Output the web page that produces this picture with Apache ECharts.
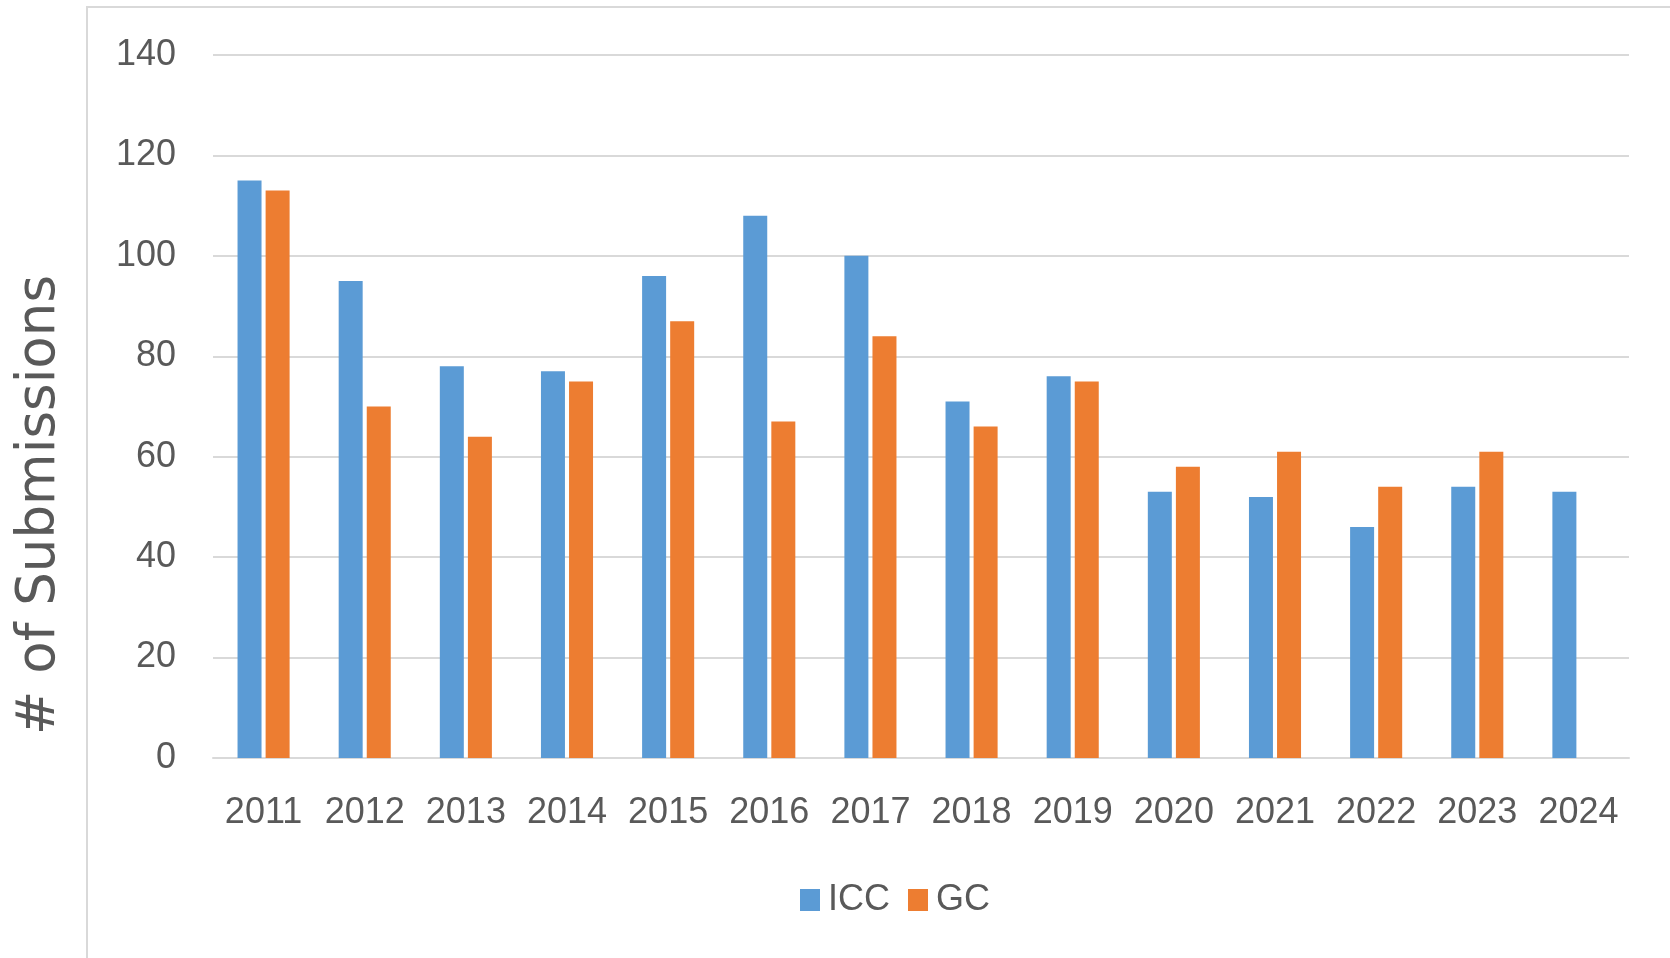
<!DOCTYPE html>
<html>
<head>
<meta charset="utf-8">
<script src="https://cdn.jsdelivr.net/npm/echarts@6/dist/echarts.min.js"></script>
<style>
html,body{margin:0;padding:0;background:#fff;}
#chart{width:1670px;height:958px;}
</style>
</head>
<body>
<div id="chart"></div>
<script>
const years = ['2011','2012','2013','2014','2015','2016','2017','2018','2019','2020','2021','2022','2023','2024'];
const iccValues = [115, 95, 78, 77, 96, 108, 100, 71, 76, 53, 52, 46, 54, 53];
const gcValues = [113, 70, 64, 75, 87, 67, 84, 66, 75, 58, 61, 54, 61, null];
const yTicks = [0, 20, 40, 60, 80, 100, 120, 140];
const axisTitle = '# of Submissions';

const chart = echarts.init(document.getElementById('chart'), null, {renderer: 'canvas'});
const textColor = '#595959';
const labelFont = 'Liberation Sans, Arial, sans-serif';

chart.setOption({
  animation: false,
  backgroundColor: '#ffffff',
  grid: {left: 213, right: 41, top: 55, bottom: 200, containLabel: false},
  legend: {
    data: ['ICC', 'GC'],
    left: 795,
    top: 877,
    itemWidth: 20,
    itemHeight: 22,
    itemGap: 18,
    icon: 'rect',
    textStyle: {color: textColor, fontSize: 36, fontFamily: labelFont, padding: [0, 0, 0, 3]}
  },
  xAxis: {
    type: 'category',
    data: years,
    axisLine: {show: true, lineStyle: {color: '#d9d9d9', width: 2}},
    axisTick: {show: false},
    axisLabel: {color: textColor, fontSize: 36, fontFamily: labelFont, margin: 37, interval: 0}
  },
  yAxis: {
    type: 'value',
    min: yTicks[0],
    max: yTicks[yTicks.length - 1],
    interval: yTicks[1] - yTicks[0],
    axisLine: {show: false},
    axisTick: {show: false},
    axisLabel: {color: textColor, fontSize: 36, fontFamily: labelFont, margin: 37},
    splitLine: {show: true, lineStyle: {color: '#d9d9d9', width: 2}}
  },
  graphic: [
    {
      type: 'rect',
      shape: {x: 87, y: 7, width: 2000, height: 2000},
      style: {fill: 'none', stroke: '#d9d9d9', lineWidth: 2},
      silent: true
    },
    {
      type: 'text',
      x: 40,
      y: 505,
      rotation: Math.PI / 2,
      style: {
        text: axisTitle,
        fill: textColor,
        font: '53px "DejaVu Sans", Verdana, sans-serif',
        textAlign: 'center',
        textVerticalAlign: 'middle'
      }
    }
  ],
  series: [
    {
      name: 'ICC',
      type: 'bar',
      data: iccValues,
      barWidth: 24,
      barGap: '17%',
      itemStyle: {color: '#5B9BD5'}
    },
    {
      name: 'GC',
      type: 'bar',
      data: gcValues,
      barWidth: 24,
      barGap: '17%',
      itemStyle: {color: '#ED7D31'}
    }
  ]
});
</script>
</body>
</html>
